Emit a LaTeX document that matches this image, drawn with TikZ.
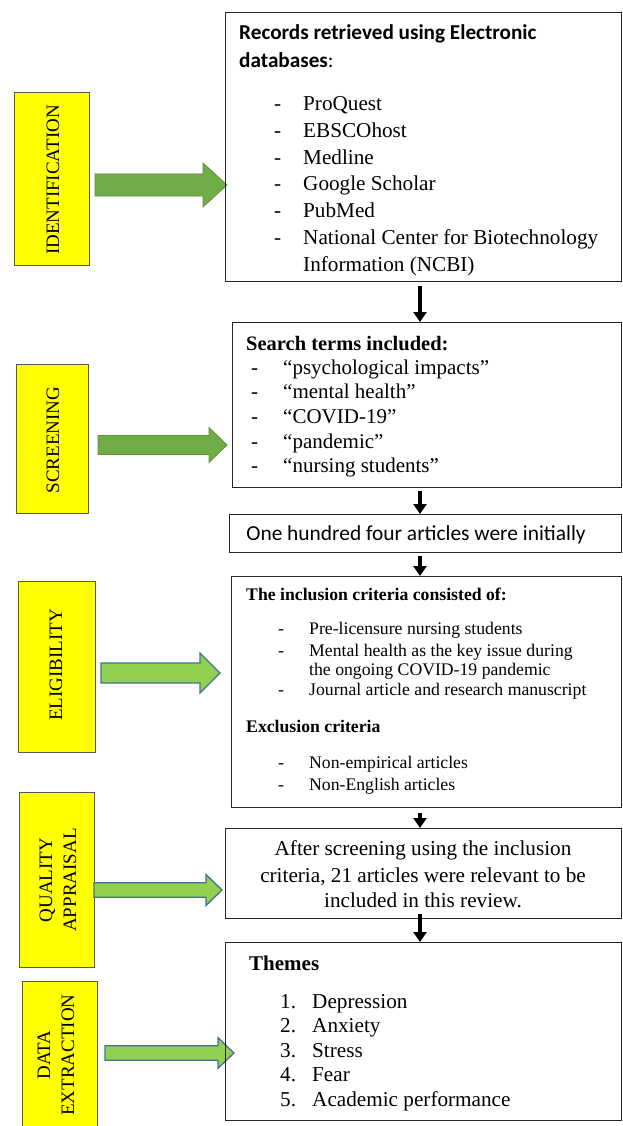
\documentclass[tikz,border=0pt]{standalone}
\usepackage{fontspec}
\setmainfont{Liberation Serif}
\newfontfamily\calibri{Carlito}
\usetikzlibrary{arrows.meta}

\definecolor{stageyellow}{HTML}{FFFF00}
\definecolor{arrowdark}{HTML}{70AD47}
\definecolor{arrowlight}{HTML}{92D050}
\definecolor{arrowblue}{HTML}{41719C}

% block arrow: style, tail x, head x, tip x, centre y, shaft half, head half
\newcommand{\blockarrow}[7]{%
  \draw[#1] (#2,#5-#6) -- (#3,#5-#6) -- (#3,#5-#7) -- (#4,#5)
    -- (#3,#5+#7) -- (#3,#5+#6) -- (#2,#5+#6) -- cycle;}

\begin{document}
\begin{tikzpicture}[x=1pt, y=-1pt,
    box/.style={draw=black!85, line width=1.4pt, anchor=north west, inner sep=0pt},
    stage/.style={draw=black!65, fill=stageyellow, line width=0.8pt, anchor=north west, inner sep=0pt},
    stagetext/.style={rotate=90, align=center, inner sep=0pt, font=\fontsize{19}{24}\selectfont},
    txt/.style={anchor=base west, inner sep=0pt},
    flow/.style={line width=4pt, -{Triangle[width=13pt,length=10pt]}},
    darkarrow/.style={fill=arrowdark, draw=arrowdark!85!black, line width=0.8pt},
    lightarrow/.style={fill=arrowlight, draw=arrowblue, line width=1.3pt}]

  % Canvas
  \fill[white] (0,0) rectangle (622,1126);
  \useasboundingbox (0,0) rectangle (622,1126);
  \coordinate (col) at (420,0);

  % Stage labels
  \node[stage, minimum width=75pt, minimum height=173pt] (id)   at (14,92)  {};
  \node[stage, minimum width=72pt, minimum height=149pt] (scr)  at (16,364) {};
  \node[stage, minimum width=77pt, minimum height=171pt] (elig) at (18,581) {};
  \node[stage, minimum width=75pt, minimum height=175pt] (qual) at (19,792) {};
  \node[stage, minimum width=75pt, minimum height=150pt] (data) at (22,981) {};

  \node[stagetext] (idtext)   at (53,180)  {IDENTIFICATION};
  \node[stagetext] (scrtext)  at (53,440)  {SCREENING};
  \node[stagetext] (eligtext) at (56,665)  {ELIGIBILITY};
  \node[stagetext] (qualtext) at (58,880)  {QUALITY\\APPRAISAL};
  \node[stagetext] (datatext) at (56,1055) {DATA\\EXTRACTION};

  % Block arrows
  \blockarrow{darkarrow}{95}{203}{227}{185}{11}{22}
  \blockarrow{darkarrow}{98}{209}{227}{445}{9.5}{17.5}
  \blockarrow{lightarrow}{101}{200}{220}{673}{10}{20}
  \blockarrow{lightarrow}{94}{206}{222}{890}{7.3}{15.5}
  \blockarrow{lightarrow}{105}{218}{234}{1053}{7.3}{15.3}

  % Boxes
  \node[box, minimum width=395.5pt, minimum height=269pt] (rec)  at (225,12)  {};
  \node[box, minimum width=388.5pt, minimum height=165pt] (srch) at (232,322) {};
  \node[box, minimum width=391.5pt, minimum height=38pt]  (init) at (229,514) {};
  \node[box, minimum width=389.5pt, minimum height=231pt] (incl) at (231,576) {};
  \node[box, minimum width=395.5pt, minimum height=90pt]  (rel)  at (225,828) {};
  \node[box, minimum width=395.5pt, minimum height=178pt] (them) at (225,942) {};

  % Flow arrows
  \draw[flow] ([yshift=-4pt]rec.south -| col)  -- (srch.north -| col);
  \draw[flow] ([yshift=-3pt]srch.south -| col) -- (init.north -| col);
  \draw[flow] ([yshift=-3pt]init.south -| col) -- (incl.north -| col);
  \draw[flow] ([yshift=-5pt]incl.south -| col) -- (rel.north -| col);
  \draw[flow] ([yshift=5pt]rel.south -| col)   -- (them.north -| col);

  % Databases
  \begin{scope}[font=\fontsize{21.2}{26}\selectfont]
    \node[txt] (rectitle) at (239,40) {\calibri\bfseries Records retrieved using Electronic};
    \node[txt] (recsub)   at (239,68) {\calibri\textbf{databases}:};
    \foreach \t [count=\i from 0] in {ProQuest, EBSCOhost, Medline, Google Scholar,
        PubMed, National Center for Biotechnology} {
      \node[txt] at (274,110.7+26.7*\i) {-};
      \node[txt] at (303,110.7+26.7*\i) {\t};
    }
    \node[txt] (ncbi) at (303,271.5) {Information (NCBI)};
  \end{scope}

  % Search terms
  \begin{scope}[font=\fontsize{21}{25}\selectfont]
    \node[txt, font=\fontsize{20.5}{25}\selectfont\bfseries] (srchtitle) at (246,350.7) {Search terms included:};
    \foreach \t [count=\i from 0] in {``psychological impacts'', ``mental health'',
        ``COVID-19'', ``pandemic'', ``nursing students''} {
      \node[txt] at (251,374+24.7*\i) {-};
      \node[txt] at (283,374+24.7*\i) {\t};
    }
  \end{scope}

  % Initial count
  \node[anchor=base, inner sep=0pt, font=\calibri\fontsize{21.4}{26}\selectfont] (inittext)
    at (416,540) {One hundred four articles were initially};

  % Criteria
  \begin{scope}[font=\fontsize{17.7}{21}\selectfont]
    \node[txt, font=\fontsize{17.7}{21}\selectfont\bfseries] (incltitle) at (246,600) {The inclusion criteria consisted of:};
    \node[txt] at (278,634) {-};
    \node[txt] at (309,634) {Pre-licensure nursing students};
    \node[txt] at (278,656) {-};
    \node[txt] at (309,656) {Mental health as the key issue during};
    \node[txt] at (309,675) {the ongoing COVID-19 pandemic};
    \node[txt] at (278,695) {-};
    \node[txt] at (309,695) {Journal article and research manuscript};
    \node[txt, font=\fontsize{17.7}{21}\selectfont\bfseries] (excltitle) at (246,732) {Exclusion criteria};
    \node[txt] at (278,768) {-};
    \node[txt] at (309,768) {Non-empirical articles};
    \node[txt] at (278,790) {-};
    \node[txt] at (309,790) {Non-English articles};
  \end{scope}

  % Relevant articles
  \begin{scope}[font=\fontsize{21.2}{26}\selectfont]
    \node[anchor=base, inner sep=0pt] (rel1) at (423,855) {After screening using the inclusion};
    \node[anchor=base, inner sep=0pt] (rel2) at (423,882) {criteria, 21 articles were relevant to be};
    \node[anchor=base, inner sep=0pt] (rel3) at (423,907) {included in this review.};
  \end{scope}

  % Themes
  \begin{scope}[font=\fontsize{21.2}{26}\selectfont]
    \node[txt, font=\fontsize{21}{26}\selectfont\bfseries] (themtitle) at (249,970) {Themes};
    \foreach \t [count=\i from 0] in {Depression, Anxiety, Stress, Fear, Academic performance} {
      \pgfmathtruncatemacro{\n}{\i+1}
      \node[txt] at (280,1008+24.5*\i) {\n.};
      \node[txt] at (312,1008+24.5*\i) {\t};
    }
  \end{scope}

\end{tikzpicture}
\end{document}
